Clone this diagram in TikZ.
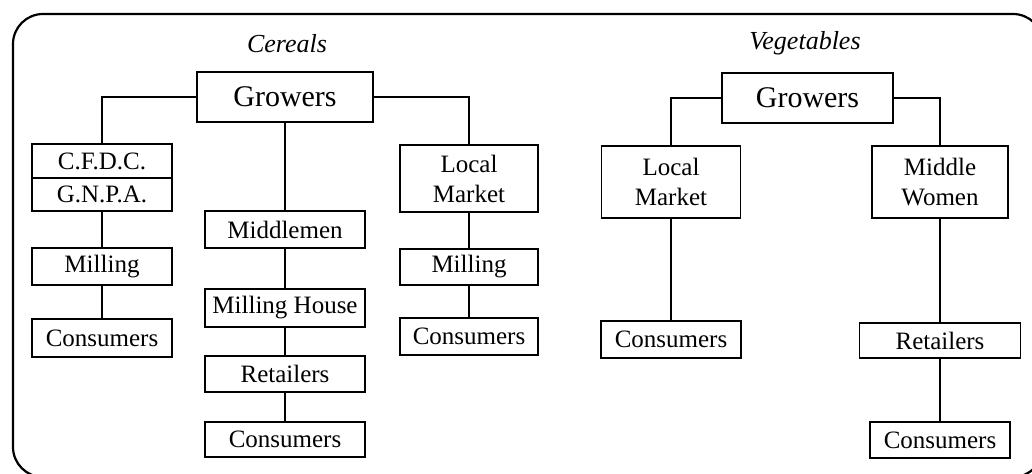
\documentclass[tikz,border=0pt]{standalone}
\usepackage{fontspec}
\setmainfont{Liberation Serif}
\begin{document}
\begin{tikzpicture}[x=0.5pt,y=-0.5pt,
  box/.style={draw, line width=0.75pt, inner sep=0pt, align=center,
    font=\fontsize{12.5}{15}\selectfont},
  bigbox/.style={box, font=\fontsize{15}{18}\selectfont},
  title/.style={inner sep=0pt, font=\fontsize{13}{15}\selectfont\itshape},
  conn/.style={line width=1pt},
  frame/.style={line width=1.1pt, rounded corners=15pt}]
\clip (0,0) rectangle (1032,473);
\draw[frame] (13,14) rectangle (1043,477);
% titles
\node[title] (tc) at (287,44) {Cereals};
\node[title] (tv) at (805,43) {Vegetables};
% cereals
\node[bigbox, minimum width=88pt, minimum height=25pt] (cg) at (285,97) {Growers};
\node[box, minimum width=70pt, minimum height=17pt] (cfdc) at (102,161) {C.F.D.C.};
\node[box, minimum width=70pt, minimum height=16.5pt] (gnpa) at (102,194.5) {G.N.P.A.};
\node[box, minimum width=70pt, minimum height=18.5pt] (mill1) at (102,266.5) {Milling};
\node[box, minimum width=70pt, minimum height=19pt] (cons1) at (102,338) {Consumers};
\node[box, minimum width=80pt, minimum height=18.5pt] (mid) at (285,229.5) {Middlemen};
\node[box, minimum width=80pt, minimum height=19pt] (mh) at (285,308) {Milling House};
\node[box, minimum width=80pt, minimum height=18pt] (ret) at (285,374) {Retailers};
\node[box, minimum width=80pt, minimum height=17.5pt] (cons2) at (285,439.5) {Consumers};
\node[box, minimum width=69pt, minimum height=33.5pt] (lm1) at (469,178.5) {Local\\Market};
\node[box, minimum width=69pt, minimum height=18pt] (mill2) at (469,267) {Milling};
\node[box, minimum width=69pt, minimum height=18.5pt] (cons3) at (469,336.5) {Consumers};
% vegetables
\node[bigbox, minimum width=85.5pt, minimum height=25pt] (vg) at (807.5,98) {Growers};
\node[box, minimum width=69.5pt, minimum height=36pt] (lm2) at (671,182) {Local\\Market};
\node[box, minimum width=70pt, minimum height=18.5pt] (cons4) at (671,339.5) {Consumers};
\node[box, minimum width=68pt, minimum height=36pt] (mw) at (940,182) {Middle\\Women};
\node[box, minimum width=80.5pt, minimum height=17.5pt] (ret2) at (940,340.5) {Retailers};
\node[box, minimum width=70pt, minimum height=18pt] (cons5) at (940,440) {Consumers};
% connectors cereals
\draw[conn] (cg.west) -| (cfdc.north);
\draw[conn] (gnpa.south) -- (mill1.north);
\draw[conn] (mill1.south) -- (cons1.north);
\draw[conn] (cg.south) -- (mid.north);
\draw[conn] (mid.south) -- (mh.north);
\draw[conn] (mh.south) -- (ret.north);
\draw[conn] (ret.south) -- (cons2.north);
\draw[conn] (cg.east) -| (lm1.north);
\draw[conn] (lm1.south) -- (mill2.north);
\draw[conn] (mill2.south) -- (cons3.north);
% connectors vegetables
\draw[conn] (vg.west) -| (lm2.north);
\draw[conn] (lm2.south) -- (cons4.north);
\draw[conn] (vg.east) -| (mw.north);
\draw[conn] (mw.south) -- (ret2.north);
\draw[conn] (ret2.south) -- (cons5.north);
\end{tikzpicture}
\end{document}
